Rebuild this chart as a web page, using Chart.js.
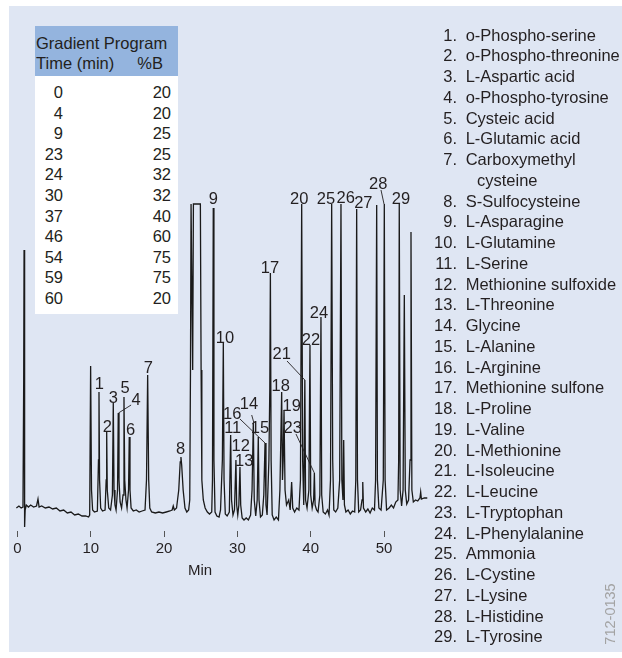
<!DOCTYPE html>
<html>
<head>
<meta charset="utf-8">
<script src="https://cdn.jsdelivr.net/npm/chart.js@4/dist/chart.umd.min.js"></script>
<style>
  body { margin: 0; width: 622px; height: 658px; position: relative; overflow: hidden; background: #fff;
         font-family: 'Liberation Sans', Arial, sans-serif; color: #231f20; }
  #panel { position: absolute; left: 9px; top: 6px; right: 0; bottom: 6px; background: #dfe6f3; }
  #chart { position: absolute; left: 0; top: 0; }
  #gradient { position: absolute; left: 35px; top: 26px; width: 143px; height: 288px; background: #fff; font-size: 16.5px; }
  #gradient .head { background: #94b4de; height: 43px; padding: 7px 0 0 1px; line-height: 20px; }
  #gradient .head .row2 { position: relative; }
  #gradient .head .row2 span { position: absolute; right: 15px; top: 0; }
  #gradient .rows { padding-top: 6px; }
  #gradient .r { position: relative; height: 20.6px; line-height: 20.6px; }
  #gradient .r .t { position: absolute; right: 115px; }
  #gradient .r .b { position: absolute; right: 7px; }
  #legend { position: absolute; left: 400px; top: 24.6px; font-size: 16.5px; }
  #legend .item { position: relative; height: 20.75px; line-height: 20.75px; white-space: nowrap; }
  #legend .num { position: absolute; right: -57px; text-align: right; }
  #legend .name { position: absolute; left: 65.7px; }
  #code { position: absolute; left: 610px; top: 614px; transform: translate(-50%, -50%) rotate(-90deg);
          font-size: 14.5px; color: #a3a3a3; white-space: nowrap; }
</style>
</head>
<body>
<div id="panel"></div>
<canvas id="chart" width="622" height="658"></canvas>
<div id="gradient">
  <div class="head">Gradient Program<div class="row2">Time (min)<span>%B</span></div></div>
  <div class="rows" id="gradRows"></div>
</div>
<div id="legend"></div>
<div id="code">712-0135</div>
<script>
// gradient program table
const gradTime = [0, 4, 9, 23, 24, 30, 37, 46, 54, 59, 60];
const gradB = [20, 20, 25, 25, 32, 32, 40, 60, 75, 75, 20];

// compound list (7 wraps onto a second line)
const compounds = [
    'o-Phospho-serine', 'o-Phospho-threonine', 'L-Aspartic acid', 'o-Phospho-tyrosine',
    'Cysteic acid', 'L-Glutamic acid', 'Carboxymethyl|cysteine', 'S-Sulfocysteine',
    'L-Asparagine', 'L-Glutamine', 'L-Serine', 'Methionine sulfoxide', 'L-Threonine',
    'Glycine', 'L-Alanine', 'L-Arginine', 'Methionine sulfone', 'L-Proline', 'L-Valine',
    'L-Methionine', 'L-Isoleucine', 'L-Leucine', 'L-Tryptophan', 'L-Phenylalanine',
    'Ammonia', 'L-Cystine', 'L-Lysine', 'L-Histidine', 'L-Tyrosine'
];

const xTicks = [0, 10, 20, 30, 40, 50];

// detector trace, [time (min), signal]; peaks over 316 are off scale
const trace = [
    [-0.15, 12], [0.2, 14], [0.5, 12], [0.75, 13], [0.85, 140], [0.9, 270], [0.95, 120], [1.0, -7],
    [1.05, 10], [1.2, 15], [1.5, 13], [1.8, 15], [2.2, 13], [2.6, 14], [2.8, 21], [2.95, 13],
    [3.3, 14], [3.8, 12], [4.3, 13], [4.8, 11], [5.3, 12], [5.8, 9], [6.3, 10], [6.8, 7],
    [7.3, 8], [7.8, 5], [8.3, 6], [8.8, 4], [9.3, 4], [9.7, 3],
    [9.85, 5], [9.98, 154], [10.1, 30], [10.25, 10], [10.5, 8], [10.9, 9], [11.05, 60], [11.12, 128],
    [11.2, 40], [11.35, 12], [11.6, 9], [11.95, 10], [12.1, 40], [12.17, 88], [12.25, 30], [12.45, 12],
    [12.7, 10], [12.95, 25], [13.07, 117], [13.17, 30], [13.3, 15], [13.45, 10], [13.65, 30], [13.75, 107],
    [13.85, 40], [14.0, 18], [14.2, 12], [14.4, 25], [14.53, 123], [14.63, 40], [14.8, 20], [14.95, 12],
    [15.15, 30], [15.25, 83], [15.35, 30], [15.5, 12], [15.8, 9], [16.2, 10], [16.6, 8], [17.0, 9],
    [17.4, 10], [17.6, 40], [17.76, 145], [17.9, 40], [18.05, 12], [18.3, 8], [18.8, 7], [19.3, 8],
    [19.8, 7], [20.3, 8], [20.8, 9], [21.1, 10], [21.25, 14], [21.4, 10], [21.7, 12], [22.0, 30],
    [22.2, 58], [22.3, 63], [22.4, 55], [22.6, 30], [22.85, 12], [23.1, 8], [23.35, 10],
    [23.5, 20], [23.6, 150], [23.68, 316], [23.8, 316], [23.9, 150], [24.0, 316], [24.95, 316],
    [25.05, 150], [25.15, 40], [25.35, 20], [25.6, 12], [25.9, 8], [26.2, 6], [26.5, 8],
    [26.6, 40], [26.71, 312], [26.8, 60], [26.95, 8], [27.2, 4], [27.5, 3], [27.7, 10], [27.95, 60],
    [28.08, 177], [28.18, 40], [28.35, 6], [28.6, 4], [28.9, 8], [29.08, 85], [29.2, 20], [29.4, 5],
    [29.6, 10], [29.8, 60], [29.9, 15], [30.05, 5], [30.2, 15], [30.35, 53], [30.45, 15], [30.65, 2],
    [30.9, 0], [31.2, 2], [31.5, 0], [31.8, 5], [32.0, 30], [32.17, 97], [32.3, 20], [32.5, 4],
    [32.7, 20], [32.85, 83], [32.95, 20], [33.15, 3], [33.4, 5], [33.6, 25], [33.77, 77], [33.9, 15],
    [34.05, 5], [34.3, 60], [34.42, 130], [34.5, 247], [34.6, 60], [34.75, 5], [35.0, 0], [35.3, 3],
    [35.6, 0], [35.8, 30], [36.04, 128], [36.15, 40], [36.25, 60], [36.36, 110], [36.5, 30], [36.7, 15],
    [37.0, 20], [37.2, 10], [37.4, 38], [37.55, 12], [37.8, 8], [38.1, 12], [38.4, 10], [38.6, 40],
    [38.77, 316], [38.9, 60], [39.05, 15], [39.2, 140], [39.3, 20], [39.5, 12], [39.75, 30], [39.9, 175],
    [40.0, 25], [40.2, 12], [40.4, 20], [40.5, 47], [40.6, 15], [40.8, 10], [41.0, 8], [41.25, 25],
    [41.4, 203], [41.5, 25], [41.7, 8], [42.0, 6], [42.3, 10], [42.5, 5], [42.7, 40], [42.86, 316],
    [43.0, 60], [43.15, 10], [43.4, 8], [43.7, 12], [43.95, 40], [44.13, 316], [44.25, 40], [44.4, 20],
    [44.5, 80], [44.6, 15], [44.8, 8], [45.1, 10], [45.4, 6], [45.7, 9], [46.0, 8], [46.15, 40],
    [46.27, 311], [46.38, 40], [46.55, 8], [46.8, 10], [47.0, 20], [47.1, 38], [47.2, 12], [47.5, 8],
    [47.8, 11], [48.1, 7], [48.4, 12], [48.7, 10], [48.85, 40], [49.0, 315], [49.1, 40], [49.3, 12],
    [49.6, 10], [49.9, 40], [50.04, 316], [50.15, 40], [50.35, 10], [50.7, 12], [51.0, 15], [51.3, 12],
    [51.6, 18], [51.9, 20], [52.0, 60], [52.08, 316], [52.2, 30], [52.4, 14], [52.6, 30], [52.77, 225],
    [52.9, 30], [53.1, 16], [53.35, 20], [53.55, 60], [53.68, 288], [53.8, 30], [54.0, 18], [54.3, 20],
    [54.6, 19], [54.9, 22], [55.0, 28], [55.1, 21], [55.5, 22], [55.9, 22]
];

// peak number labels: [text, time, signal] of the label centre
const peakLabels = [
    ['1', 11.16, 137], ['2', 12.25, 94], ['3', 13.07, 123], ['4', 16.17, 121], ['5', 14.67, 133],
    ['6', 15.44, 91], ['7', 17.84, 153], ['8', 22.26, 72], ['9', 26.71, 322], ['10', 28.31, 183],
    ['11', 29.36, 93], ['12', 30.45, 75], ['13', 30.94, 60], ['14', 31.58, 117], ['15', 33.08, 93],
    ['16', 29.3, 107], ['17', 34.45, 253], ['18', 35.9, 135], ['19', 37.41, 115], ['20', 38.44, 322],
    ['21', 36.04, 167], ['22', 40.04, 181], ['23', 37.54, 93], ['24', 41.13, 208], ['25', 42.09, 322],
    ['26', 44.78, 323], ['27', 47.18, 318], ['28', 49.22, 337], ['29', 52.32, 322]
];

// leader lines from a label to its peak: [t1, v1, t2, v2]
const leaders = [
    [15.5, 115, 13.78, 107],
    [31.95, 105, 32.26, 97],
    [30.35, 101, 33.77, 77],
    [36.77, 159, 39.2, 140],
    [37.99, 86, 40.5, 47],
    [49.59, 330, 50.0, 316]
];

// build the html parts
document.getElementById('gradRows').innerHTML = gradTime.map((t, i) =>
    `<div class="r"><span class="t">${t}</span><span class="b">${gradB[i]}</span></div>`).join('');

document.getElementById('legend').innerHTML = compounds.map((name, i) => {
    const parts = name.split('|');
    let html = `<div class="item"><span class="num">${i + 1}.</span><span class="name">${parts[0]}</span></div>`;
    if (parts[1]) html += `<div class="item"><span class="name" style="left:77px">${parts[1]}</span></div>`;
    return html;
}).join('');

const peakText = {
    id: 'peakText',
    afterDatasetsDraw(chart) {
        const ctx = chart.ctx;
        const x = chart.scales.x, y = chart.scales.y;
        ctx.save();
        ctx.fillStyle = '#231f20';
        ctx.font = "16.5px 'Liberation Sans', Arial, sans-serif";
        ctx.textAlign = 'center';
        ctx.textBaseline = 'middle';
        peakLabels.forEach(([txt, t, v]) => {
            ctx.fillText(txt, x.getPixelForValue(t), y.getPixelForValue(v) + 1);
        });
        ctx.strokeStyle = '#231f20';
        ctx.lineWidth = 0.9;
        leaders.forEach(([t1, v1, t2, v2]) => {
            ctx.beginPath();
            ctx.moveTo(x.getPixelForValue(t1), y.getPixelForValue(v1));
            ctx.lineTo(x.getPixelForValue(t2), y.getPixelForValue(v2));
            ctx.stroke();
        });
        ctx.restore();
    }
};

Chart.defaults.font.family = "'Liberation Sans', Arial, sans-serif";
Chart.defaults.color = '#231f20';

new Chart(document.getElementById('chart'), {
    type: 'line',
    data: {
        datasets: [{
            data: trace.map(p => ({ x: p[0], y: p[1] })),
            borderColor: '#1a1a1a',
            borderWidth: 1.3,
            pointRadius: 0,
            tension: 0,
            fill: false,
            clip: 3
        }]
    },
    options: {
        responsive: false,
        animation: false,
        devicePixelRatio: 1,
        layout: { padding: { left: 16, right: 194, top: 204, bottom: 97 } },
        plugins: { legend: { display: false }, tooltip: { enabled: false } },
        scales: {
            x: {
                type: 'linear',
                min: -0.2,
                max: 56,
                afterBuildTicks: scale => { scale.ticks = xTicks.map(v => ({ value: v })); },
                grid: { drawOnChartArea: false, drawTicks: true, tickLength: 6, color: '#555' },
                border: { display: false },
                ticks: { padding: 3, font: { size: 15 }, color: '#231f20' },
                title: { display: false }
            },
            y: {
                display: false,
                min: -11,
                max: 316
            }
        }
    },
    plugins: [peakText]
});
</script>
<div style="position:absolute; left:200px; top:569px; transform:translate(-50%,-50%); font-size:15px;">Min</div>
</body>
</html>
